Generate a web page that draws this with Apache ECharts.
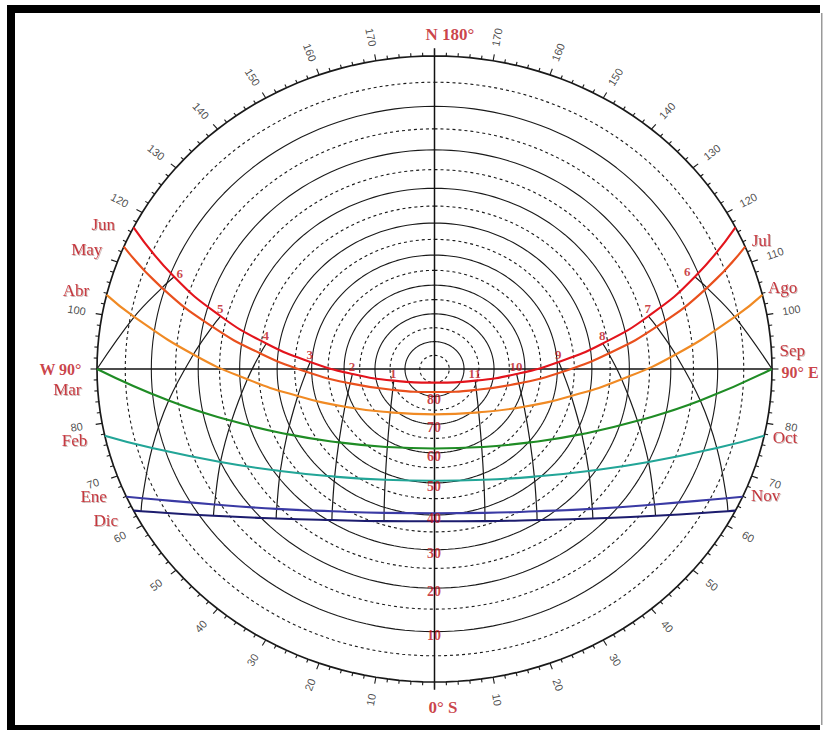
<!DOCTYPE html>
<html><head><meta charset="utf-8">
<script src="https://cdn.jsdelivr.net/npm/echarts@6/dist/echarts.min.js"></script>
<style>html,body{margin:0;padding:0;background:#fff}#c{width:833px;height:730px}</style>
</head><body><div id="c"></div>
<script>
// ---------- DATA (azimuth from South, + toward West; altitude in degrees) ----------
// each point: [solar hour, azimuth, altitude]
const sunJun = [[5.09,-116.9,0],[6,-110.9,10.9],[7,-104.9,23.5],[8,-99.3,36.4],[9,-93.5,49.5],[10,-86.3,62.6],[11,-72.9,75.6],[12,0,85.0],[13,72.9,75.6],[14,86.3,62.6],[15,93.5,49.5],[16,99.3,36.4],[17,104.9,23.5],[18,110.9,10.9],[18.91,116.9,0]];
const sunMayJul = [[5.23,-113.0,0],[6,-107.8,9.4],[7,-101.6,22.2],[8,-95.5,35.2],[9,-88.7,48.4],[10,-79.6,61.5],[11,-61.7,74.0],[12,0,81.6],[13,61.7,74.0],[14,79.6,61.5],[15,88.7,48.4],[16,95.5,35.2],[17,101.6,22.2],[18,107.8,9.4],[18.77,113.0,0]];
const sunAbrAgo = [[5.56,-103.7,0],[6,-100.6,5.7],[7,-93.7,18.8],[8,-86.6,31.9],[9,-78.0,45.0],[10,-65.6,57.5],[11,-43.4,68.4],[12,0,73.5],[13,43.4,68.4],[14,65.6,57.5],[15,78.0,45.0],[16,86.6,31.9],[17,93.7,18.8],[18,100.6,5.7],[18.44,103.7,0]];
const sunMarSep = [[6,-90,0],[7,-82.7,13.1],[8,-74.6,26.1],[9,-64.5,38.4],[10,-50.4,49.6],[11,-29.3,58.1],[12,0,61.5],[13,29.3,58.1],[14,50.4,49.6],[15,64.5,38.4],[16,74.6,26.1],[17,82.7,13.1],[18,90,0]];
const sunFebOct = [[6.40,-77.7,0],[7,-73.2,7.7],[8,-64.9,20.0],[9,-54.5,31.4],[10,-40.7,41.2],[11,-22.4,48.1],[12,0,50.7],[13,22.4,48.1],[14,40.7,41.2],[15,54.5,31.4],[16,64.9,20.0],[17,73.2,7.7],[17.60,77.7,0]];
const sunEneNov = [[6.80,-65.9,0],[7,-64.5,2.4],[8,-56.4,13.9],[9,-46.3,24.2],[10,-33.7,32.7],[11,-18.0,38.4],[12,0,40.5],[13,18.0,38.4],[14,33.7,32.7],[15,46.3,24.2],[16,56.4,13.9],[17,64.5,2.4],[17.20,65.9,0]];
const sunDic = [[6.91,-63.1,0],[7,-62.4,1.1],[8,-54.4,12.3],[9,-44.5,22.4],[10,-32.2,30.6],[11,-17.1,36.1],[12,0,38.1],[13,17.1,36.1],[14,32.2,30.6],[15,44.5,22.4],[16,54.4,12.3],[17,62.4,1.1],[17.09,63.1,0]];

const monthsLeft = ['Jun','May','Abr','Mar','Feb','Ene','Dic'];
const monthsRight = ['','Jul','Ago','Sep','Oct','Nov',''];
const labeledHours = [6,7,8,9,10,11,13,14,15,16,17,18];
const ringAltitudes = [0,5,10,15,20,25,30,35,40,45,50,55,60,65,70,75,80,85];
const altitudeLabels = [10,20,30,40,50,60,70,80];
// azimuth labels shown on the West (left) and East (right) halves
const azimuthLabelsWest = [10,20,30,40,50,60,70,80,100,120,130,140,150,160,170];
const azimuthLabelsEast = [10,20,30,40,50,60,70,80,100,110,120,130,140,150,160,170];
const tickAzimuths = []; for (let a = 0; a < 360; a += 2) tickAzimuths.push(a);
const compassText = {N:'N 180°', W:'W 90°', S:'0° S', E:'90° E'};

// ---------- STYLE ----------
const sunPaths = [sunJun, sunMayJul, sunAbrAgo, sunMarSep, sunFebOct, sunEneNov, sunDic];
const monthColors = ['#e3141c','#e9501d','#f08a24','#1f8c25','#22a597','#3a3aa4','#1c1c6e'];
const RED = '#bd1219';
const SERIF = '"Liberation Serif","DejaVu Serif",serif';
const RX = 337.5, RY = 313;

const D2R = Math.PI/180;
function proj(az, alt){ const r = Math.tan((90-alt)/2*D2R); return [-Math.sin(az*D2R)*r, -Math.cos(az*D2R)*r]; }
function projR(az, rf){ return [-Math.sin(az*D2R)*rf, -Math.cos(az*D2R)*rf]; }

const series = [];
const base = {type:'line', symbol:'none', showSymbol:false, clip:false, silent:true, animation:false};

// altitude rings
ringAltitudes.forEach(alt => {
  const pts = [];
  for (let a = -180; a <= 180; a += 2) pts.push(proj(a, alt));
  series.push(Object.assign({}, base, {data: pts, z:1,
    lineStyle:{color:'#1a1a1a', width: alt===0 ? 1.7 : 1.1, type: alt%10===0 ? 'solid' : [3,3]}}));
});
// N-S and E-W lines
series.push(Object.assign({}, base, {data:[projR(0,1.025), projR(180,1.025)], z:1, lineStyle:{color:'#111', width:1.5}}));
series.push(Object.assign({}, base, {data:[proj(90,0), proj(-90,0)], z:1, lineStyle:{color:'#111', width:1.5}}));

// outer ticks
series.push({type:'custom', coordinateSystem:'cartesian2d', silent:true, animation:false, clip:false, z:2,
  data: tickAzimuths.map(a => { const p = proj(a,0); return [p[0], p[1], a%10===0 ? 1 : 0]; }),
  renderItem: (params, api) => {
    const p1 = api.coord([api.value(0), api.value(1)]);
    const c = api.coord([0,0]);
    const dx = p1[0]-c[0], dy = p1[1]-c[1], d = Math.hypot(dx,dy);
    const len = api.value(2) ? 6.5 : 3.5;
    return {type:'line', shape:{x1:p1[0], y1:p1[1], x2:p1[0]+dx/d*len, y2:p1[1]+dy/d*len}, style:{stroke:'#1a1a1a', lineWidth:1.1}};
  }});

// hour lines
labeledHours.forEach(h => {
  const pts = [];
  sunPaths.forEach(path => { const p = path.find(q => q[0]===h); if (p) pts.push(proj(p[1], p[2])); });
  series.push(Object.assign({}, base, {data: pts, smooth:0.4, z:3, lineStyle:{color:'#1a1a1a', width:1.2}}));
});

// sun paths
sunPaths.forEach((path, i) => {
  series.push(Object.assign({}, base, {data: path.map(p => proj(p[1], p[2])), smooth:0.5, z:5,
    lineStyle:{color: monthColors[i], width:2.1}}));
});

const labelBase = {type:'scatter', symbolSize:1, itemStyle:{color:'transparent'}, clip:false, silent:true, animation:false, z:10};

// hour numbers on the June path
series.push(Object.assign({}, labelBase, {
  data: sunJun.filter(p => labeledHours.includes(p[0])).map(p => {
    const t = p[0] > 12 ? p[0]-12 : p[0];
    let off = [0,-7];
    if (p[0]===18) off = [6,-3];
    if (p[0]===6) off = [-7,-5];
    return {value: proj(p[1],p[2]), name: String(t), label:{position: off}};
  }),
  label:{show:true, formatter:'{b}', align:'center', verticalAlign:'middle', color:RED, fontFamily:SERIF, fontWeight:'bold', fontSize:13}
}));

// altitude numbers along the S axis
series.push(Object.assign({}, labelBase, {
  data: altitudeLabels.map(a => ({value: proj(0, a), name: String(a)})),
  label:{show:true, formatter:'{b}', position:[0,4], align:'center', verticalAlign:'middle', color:RED, fontFamily:SERIF, fontWeight:'bold', fontSize:14}
}));

// azimuth numbers around the horizon
const azData = [];
function addAz(a, az){
  const p = projR(az, 1.075);
  const th = Math.atan2(p[1]*RY, p[0]*RX) / D2R;
  const rot = p[0] >= 0 ? th : (th > 0 ? th-180 : th+180);
  azData.push({value: p, name: String(a), label:{rotate: rot}});
}
azimuthLabelsWest.forEach(a => addAz(a, a));
azimuthLabelsEast.forEach(a => addAz(a, -a));
series.push(Object.assign({}, labelBase, {
  data: azData,
  label:{show:true, formatter:'{b}', position:[0,0], align:'center', verticalAlign:'middle', color:'#222', fontFamily:'"Liberation Sans",Arial,sans-serif', fontSize:11}
}));

// month + compass labels
const ends = sunPaths.map(p => ({w: proj(p[p.length-1][1], p[p.length-1][2]), e: proj(p[0][1], p[0][2])}));
const leftOff = [[-18,-2],[-21,3],[-17,-4],[-15,21],[-17,5],[-19,0],[-15,10]];
const rightOff = [null,[7,-6],[6,-7],[8,-18],[9,2],[9,-1],null];
const mLabels = [];
monthsLeft.forEach((m,i) => mLabels.push({value: ends[i].w, name: m, label:{position: leftOff[i], align:'right'}}));
monthsRight.forEach((m,i) => { if (m) mLabels.push({value: ends[i].e, name: m, label:{position: rightOff[i], align:'left'}}); });
series.push(Object.assign({}, labelBase, {
  data: mLabels,
  label:{show:true, formatter:'{b}', verticalAlign:'middle', color:RED, fontFamily:SERIF, fontSize:17, lineHeight:17,
    textShadowColor:'rgba(60,0,0,0.35)', textShadowBlur:1, textShadowOffsetX:1, textShadowOffsetY:1}
}));
series.push(Object.assign({}, labelBase, {
  data: [
    {value: projR(180,1), name: compassText.N, label:{position:[16,-21], align:'center', fontSize:17}},
    {value: projR(90,1), name: compassText.W, label:{position:[-15,1], align:'right'}},
    {value: projR(0,1), name: compassText.S, label:{position:[9,26], align:'center', fontSize:17}},
    {value: projR(-90,1), name: compassText.E, label:{position:[10,4], align:'left'}}
  ],
  label:{show:true, formatter:'{b}', verticalAlign:'middle', color:RED, fontFamily:SERIF, fontWeight:'bold', fontSize:16, lineHeight:16}
}));

const chart = echarts.init(document.getElementById('c'), null, {renderer:'svg'});
chart.setOption({
  animation:false,
  backgroundColor:'#fff',
  grid:{left:97, top:56, width:675, height:626, show:false},
  xAxis:{type:'value', min:-1, max:1, show:false},
  yAxis:{type:'value', min:-1, max:1, show:false},
  graphic:[
    {type:'rect', shape:{x:8, y:5, width:812, height:8}, style:{fill:'#000'}, silent:true},
    {type:'rect', shape:{x:7, y:5, width:8, height:725}, style:{fill:'#000'}, silent:true},
    {type:'rect', shape:{x:7, y:725, width:813, height:5}, style:{fill:'#000'}, silent:true},
    {type:'rect', shape:{x:821, y:13, width:1.5, height:712}, style:{fill:'#999'}, silent:true}
  ],
  series: series
});
</script></body></html>
